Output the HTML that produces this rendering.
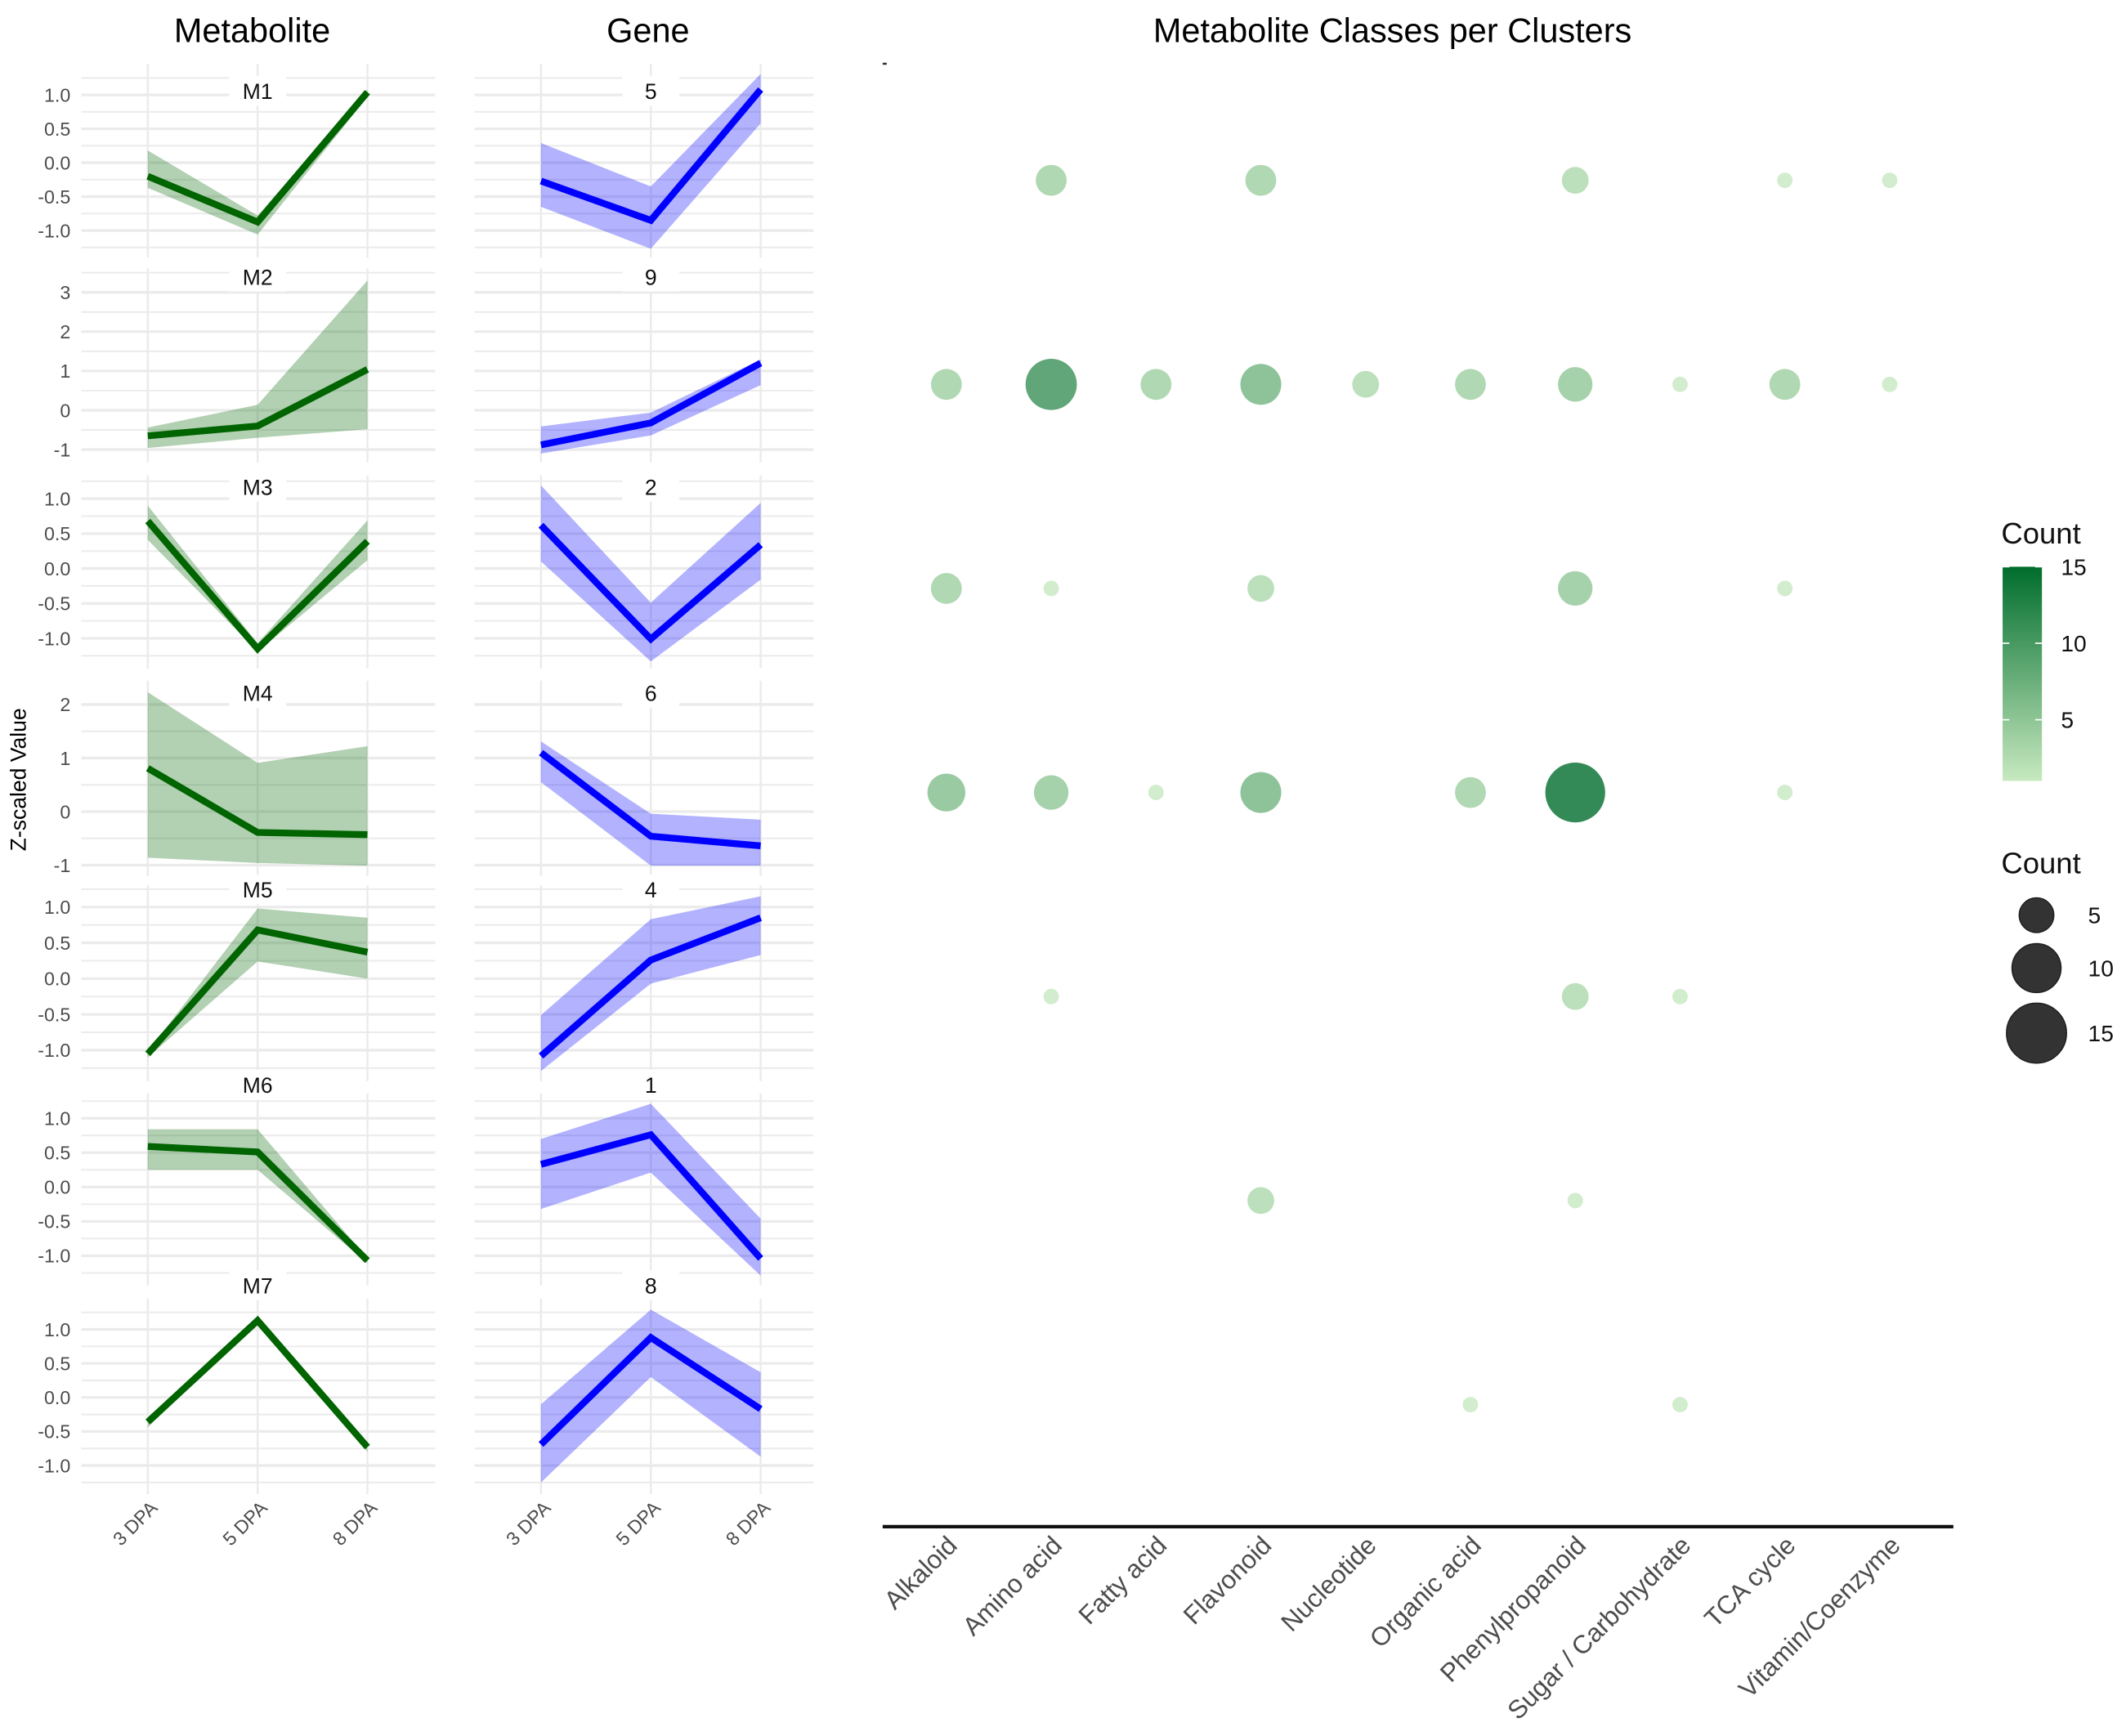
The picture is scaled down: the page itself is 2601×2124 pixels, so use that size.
<!DOCTYPE html>
<html><head><meta charset="utf-8"><style>
html,body{margin:0;padding:0;background:#fff;}
svg{display:block;font-family:"Liberation Sans",sans-serif;}
.tick{font-family:"Liberation Sans Narrow","Liberation Sans",sans-serif;fill:#4d4d4d;font-size:14px;}
</style></head><body>
<svg id="fig" width="2601" height="2124" viewBox="0 0 1568 1280.4" xmlns="http://www.w3.org/2000/svg">
<rect width="1568" height="1280.4" fill="#fff"/>
<text x="186" y="31" font-size="25" text-anchor="middle">Metabolite</text>
<text x="478" y="31" font-size="25" text-anchor="middle">Gene</text>
<text x="1027" y="31" font-size="25" text-anchor="middle">Metabolite Classes per Clusters</text>
<text transform="translate(19,575) rotate(-90)" font-size="16" text-anchor="middle">Z-scaled Value</text>
<g id="left"></g>
<g id="right"></g>
</svg>
<script>
// ---- line panels data ----
const timepoints = ["3 DPA","5 DPA","8 DPA"];
const metLabels = ["M1","M2","M3","M4","M5","M6","M7"];
const geneLabels = ["5","9","2","6","4","1","8"];
const metMean = [[-0.2,-0.875,1.04],[-0.65,-0.4,1.04],[0.68,-1.15,0.39],[0.81,-0.39,-0.43],[-1.05,0.68,0.37],[0.59,0.51,-1.07],[-0.36,1.13,-0.73]];
const metUpper = [[0.18,-0.78,1.08],[-0.44,0.14,3.3],[0.9,-1.07,0.69],[2.23,0.91,1.22],[-1.02,0.98,0.85],[0.84,0.84,-1.04],[-0.3,1.16,-0.69]];
const metLower = [[-0.37,-1.06,0.97],[-0.96,-0.7,-0.48],[0.41,-1.19,0.12],[-0.86,-0.96,-1.01],[-1.1,0.24,0.0],[0.25,0.25,-1.11],[-0.44,1.09,-0.8]];
const geneMean = [[-0.27,-0.85,1.08],[-0.88,-0.32,1.2],[0.62,-1.01,0.34],[1.1,-0.46,-0.64],[-1.08,0.26,0.85],[0.33,0.76,-1.04],[-0.69,0.88,-0.17]];
const geneUpper = [[0.29,-0.35,1.31],[-0.41,-0.06,1.29],[1.19,-0.49,0.94],[1.31,-0.04,-0.15],[-0.51,0.83,1.15],[0.7,1.21,-0.46],[-0.1,1.29,0.37]];
const geneLower = [[-0.65,-1.27,0.58],[-1.1,-0.64,0.64],[0.1,-1.33,-0.16],[0.55,-1.01,-1.01],[-1.29,-0.07,0.33],[-0.32,0.21,-1.29],[-1.25,0.3,-0.87]];
const rowTicks = [[-1,-0.5,0,0.5,1],[-1,0,1,2,3],[-1,-0.5,0,0.5,1],[-1,0,1,2],[-1,-0.5,0,0.5,1],[-1,-0.5,0,0.5,1],[-1,-0.5,0,0.5,1]];
const rowTickLabels = [["-1.0","-0.5","0.0","0.5","1.0"],["-1","0","1","2","3"],["-1.0","-0.5","0.0","0.5","1.0"],["-1","0","1","2"],["-1.0","-0.5","0.0","0.5","1.0"],["-1.0","-0.5","0.0","0.5","1.0"],["-1.0","-0.5","0.0","0.5","1.0"]];

const rowLayout = [
 {z:120,u:50,top:47,bot:190,lab:67},
 {z:302.6,u:29,top:198,bot:341,lab:204},
 {z:419.3,u:51.5,top:350.6,bot:493,lab:359},
 {z:598.6,u:39.5,top:502,bot:646,lab:511},
 {z:721.8,u:52.8,top:653,bot:797.5,lab:656},
 {z:875.5,u:50.7,top:806.5,bot:948,lab:800},
 {z:1030.7,u:50.2,top:958,bot:1102,lab:948}];
const cols = [{x0:60,x1:321,xs:[109,190,271]},{x0:350,x1:600,xs:[399,480,561]}];

const NS="http://www.w3.org/2000/svg";
function mk(tag,attrs,parent){const e=document.createElementNS(NS,tag);for(const k in attrs)e.setAttribute(k,attrs[k]);parent.appendChild(e);return e;}
const left=document.getElementById('left');

for(let r=0;r<7;r++){
  const L=rowLayout[r];
  const yS=v=>L.z-v*L.u;
  const step=rowTicks[r][1]-rowTicks[r][0];
  const minor=step/2;
  for(let c=0;c<2;c++){
    const C=cols[c];
    const xS=i=>C.xs[i];
    const g=mk('g',{},left);
    
    
    for(let k=-20;k<=20;k++){
      const v=k*minor;const y=yS(v);
      if(y<L.top||y>L.bot)continue;
      const isMajor=Math.abs(Math.round(v/step)*step-v)<1e-6;
      const gl=mk('line',{x1:C.x0,x2:C.x1,y1:y,y2:y,stroke:'#ebebeb','stroke-width':isMajor?2:1.2},g);
      
      
    }
    for(let i=0;i<3;i++){
      const vl=mk('line',{x1:xS(i),x2:xS(i),y1:L.top,y2:L.bot,stroke:'#ebebeb','stroke-width':1.5},g);
      
      
    }
    const mean=c===0?metMean[r]:geneMean[r];
    const up=c===0?metUpper[r]:geneUpper[r];
    const lo=c===0?metLower[r]:geneLower[r];
    let pts=[];
    for(let i=0;i<3;i++)pts.push(xS(i)+','+yS(up[i]));
    for(let i=2;i>=0;i--)pts.push(xS(i)+','+yS(lo[i]));
    const rib=mk('polygon',{points:pts.join(' '),fill:c===0?'#006400':'#0000ff','fill-opacity':0.3},g);
    
    
    const lp=[];for(let i=0;i<3;i++)lp.push(xS(i)+','+yS(mean[i]));
    const ln=mk('polyline',{points:lp.join(' '),fill:'none',stroke:c===0?'#006400':'#0000ff','stroke-width':5,'stroke-linejoin':'miter'},g);
    
    
    const cx=(xS(1));
    const bg=mk('rect',{x:cx-21,y:L.lab-11,width:42,height:22,fill:'#fff'},g);
    
    
    const st=mk('text',{x:cx,y:L.lab+6,'font-size':16,'text-anchor':'middle',fill:'#111'},g);
    st.textContent=c===0?metLabels[r]:geneLabels[r];
    
    
    if(c===0){
      rowTicks[r].forEach((v,j)=>{
        const t=mk('text',{x:52,y:yS(v)+5,'text-anchor':'end',class:'tick'},g);
        t.textContent=rowTickLabels[r][j];
        
        
      });
    }
    if(r===6){
      for(let i=0;i<3;i++){
        const t=mk('text',{transform:`translate(${xS(i)+8},1113) rotate(-45)`,'text-anchor':'end',class:'tick','font-size':13.5},g);
        t.textContent=timepoints[i];
        
        
      }
    }
  }
}

// ---- bubble chart data ----
const classNames = ["Alkaloid","Amino acid","Fatty acid","Flavonoid","Nucleotide","Organic acid","Phenylpropanoid","Sugar / Carbohydrate","TCA cycle","Vitamin/Coenzyme"];
const clusters = ["M1","M2","M3","M4","M5","M6","M7"];
const countsM1 = [0,4,0,4,0,0,3,0,1,1];
const countsM2 = [4,11,4,7,3,4,5,1,4,1];
const countsM3 = [4,1,0,3,0,0,5,0,1,0];
const countsM4 = [6,5,1,7,0,4,15,0,1,0];
const countsM5 = [0,1,0,0,0,0,3,1,0,0];
const countsM6 = [0,0,0,3,0,0,1,0,0,0];
const countsM7 = [0,0,0,0,0,1,0,1,0,0];
const countRows = [countsM1,countsM2,countsM3,countsM4,countsM5,countsM6,countsM7];
const colorTicks = [5,10,15];
const sizeTicks = [5,10,15];

const right=document.getElementById('right');
const bx=i=>698+i*77.3;
const by=j=>133+j*150.5;
const rS=v=>5.7*Math.sqrt(v);
const lowC=[199,233,192],highC=[0,109,44];
function col(v){const t=Math.max(0,Math.min(1,(v-1)/14));const c=lowC.map((a,k)=>Math.round(a+(highC[k]-a)*t));return `rgb(${c[0]},${c[1]},${c[2]})`;}

const tk=mk('line',{x1:651,x2:654,y1:47,y2:47,stroke:'#333','stroke-width':1.5},right);



countRows.forEach((row,j)=>{
  row.forEach((v,i)=>{
    if(!v)return;
    const d=mk('circle',{cx:bx(i),cy:by(j),r:rS(v),fill:col(v),'fill-opacity':0.8},right);
    
    
  });
});
const ax=mk('line',{x1:651,x2:1440.7,y1:1126,y2:1126,stroke:'#111','stroke-width':2.6},right);


classNames.forEach((n,i)=>{
  const t=mk('text',{transform:`translate(${bx(i)+9},1141) rotate(-45)`,'text-anchor':'end','font-size':19,fill:'#4d4d4d'},right);
  t.textContent=n;
  
  
});

const defs=mk('defs',{},right);
const lg=mk('linearGradient',{id:'cg',x1:0,y1:1,x2:0,y2:0},defs);
mk('stop',{offset:0,'stop-color':col(1)},lg);
mk('stop',{offset:1,'stop-color':col(15)},lg);
const ct=mk('text',{x:1476,y:401,'font-size':22,fill:'#111'},right);ct.textContent='Count';


const cbTop=418,cbBot=576;
const cbY=v=>cbBot-(v-1)/14*(cbBot-cbTop);
const cb=mk('rect',{x:1477,y:cbTop,width:29,height:cbBot-cbTop,fill:'url(#cg)'},right);


colorTicks.forEach(v=>{
  mk('line',{x1:1477,x2:1482,y1:cbY(v),y2:cbY(v),stroke:'#fff','stroke-width':1},right);
  mk('line',{x1:1501,x2:1506,y1:cbY(v),y2:cbY(v),stroke:'#fff','stroke-width':1},right);
  const t=mk('text',{x:1520,y:cbY(v)+6,'font-size':17,fill:'#111'},right);t.textContent=v;
  
  
});
const stt=mk('text',{x:1476,y:644,'font-size':22,fill:'#111'},right);stt.textContent='Count';


const sizeY=[675,714,762];
sizeTicks.forEach((v,k)=>{
  const c=mk('circle',{cx:1502,cy:sizeY[k],r:rS(v),fill:'#333',stroke:'#222','stroke-width':1},right);
  
  
  const t=mk('text',{x:1540,y:sizeY[k]+6,'font-size':17,fill:'#111'},right);t.textContent=v;
  
  
});
</script>
</body></html>
